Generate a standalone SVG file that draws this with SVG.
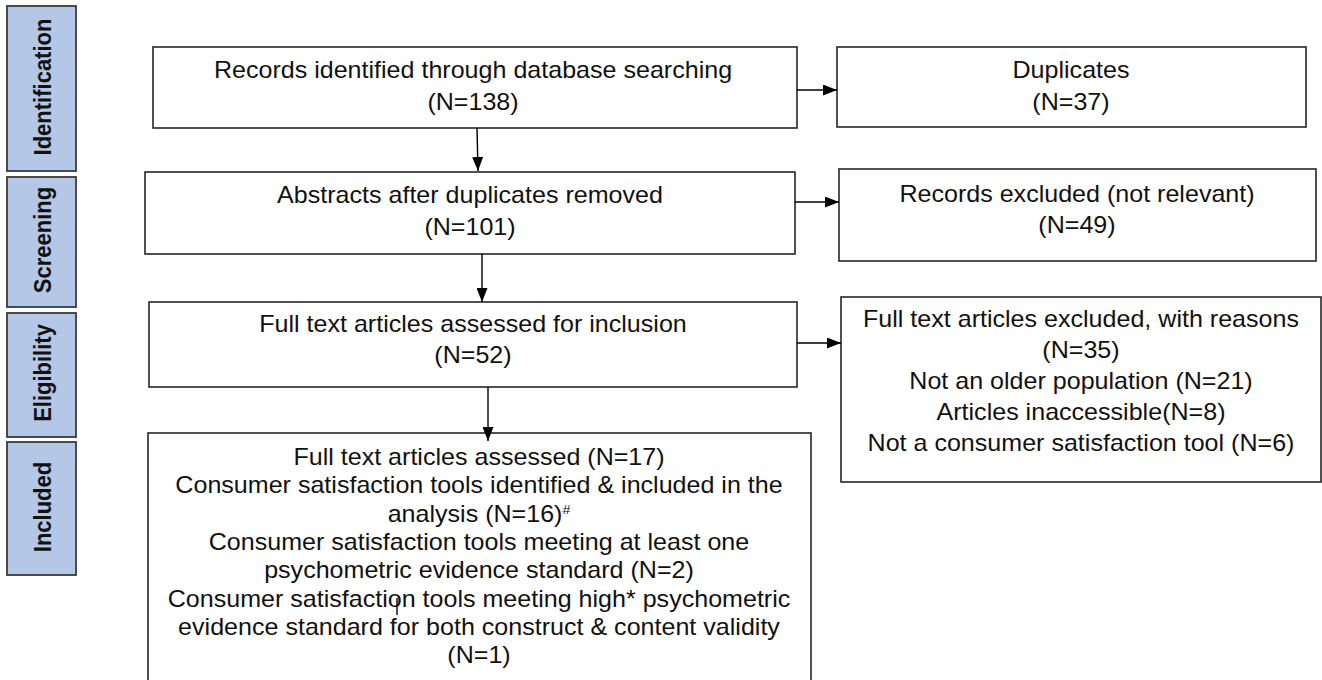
<svg xmlns="http://www.w3.org/2000/svg" width="1322" height="680" viewBox="0 0 1322 680">
  <defs>
    <marker id="arrow" markerUnits="userSpaceOnUse" markerWidth="14" markerHeight="11" refX="14" refY="5.5" orient="auto">
      <path d="M0,0 L14,5.5 L0,11 Z" fill="#000"/>
    </marker>
    <style>
      .box { fill: #ffffff; stroke: #262626; stroke-width: 1.6; }
      .stage { fill: #b4c7e7; stroke: #3a3a3a; stroke-width: 1.8; }
      .lbl { font-family: "Liberation Sans", Arial, sans-serif; font-size: 23px; fill: #111; text-anchor: middle; }
      .stg { font-family: "Liberation Sans", Arial, sans-serif; font-size: 22px; font-weight: bold; fill: #111; text-anchor: middle; }
      .conn { stroke: #000; stroke-width: 1.4; fill: none; }
    </style>
  </defs>
  <rect width="1322" height="680" fill="#ffffff"/>

  <!-- stage bars -->
  <g id="stage-identification">
    <rect class="stage" x="7" y="6" width="69" height="165"/>
    <g transform="translate(51 87) scale(1.09 1) rotate(-90)"><text class="stg" x="0" y="0">Identification</text></g>
  </g>
  <g id="stage-screening">
    <rect class="stage" x="7" y="177" width="69" height="130"/>
    <g transform="translate(51 240) scale(1.09 1) rotate(-90)"><text class="stg" x="0" y="0">Screening</text></g>
  </g>
  <g id="stage-eligibility">
    <rect class="stage" x="7" y="313" width="69" height="124"/>
    <g transform="translate(51 373) scale(1.09 1) rotate(-90)"><text class="stg" x="0" y="0">Eligibility</text></g>
  </g>
  <g id="stage-included">
    <rect class="stage" x="7" y="442" width="69" height="133"/>
    <g transform="translate(51 507) scale(1.09 1) rotate(-90)"><text class="stg" x="0" y="0">Included</text></g>
  </g>

  <!-- flow boxes -->
  <g id="records-identified">
    <rect class="box" x="153" y="47" width="644" height="81"/>
    <g transform="translate(473 0) scale(1.09 1)">
      <text class="lbl" x="0" y="78">Records identified through database searching</text>
      <text class="lbl" x="0" y="110">(N=138)</text>
    </g>
  </g>
  <g id="duplicates">
    <rect class="box" x="837" y="47" width="469" height="80"/>
    <g transform="translate(1071 0) scale(1.09 1)">
      <text class="lbl" x="0" y="78">Duplicates</text>
      <text class="lbl" x="0" y="110">(N=37)</text>
    </g>
  </g>
  <g id="abstracts">
    <rect class="box" x="145" y="172" width="650" height="82"/>
    <g transform="translate(470 0) scale(1.09 1)">
      <text class="lbl" x="0" y="203">Abstracts after duplicates removed</text>
      <text class="lbl" x="0" y="235">(N=101)</text>
    </g>
  </g>
  <g id="records-excluded">
    <rect class="box" x="839" y="169" width="477" height="92"/>
    <g transform="translate(1077 0) scale(1.09 1)">
      <text class="lbl" x="0" y="202">Records excluded (not relevant)</text>
      <text class="lbl" x="0" y="233">(N=49)</text>
    </g>
  </g>
  <g id="fulltext-assessed">
    <rect class="box" x="149" y="302" width="648" height="85"/>
    <g transform="translate(473 0) scale(1.09 1)">
      <text class="lbl" x="0" y="332">Full text articles assessed for inclusion</text>
      <text class="lbl" x="0" y="363">(N=52)</text>
    </g>
  </g>
  <g id="fulltext-excluded">
    <rect class="box" x="841" y="297" width="480" height="185"/>
    <g transform="translate(1081 0) scale(1.09 1)">
      <text class="lbl" x="0" y="327">Full text articles excluded, with reasons</text>
      <text class="lbl" x="0" y="358">(N=35)</text>
      <text class="lbl" x="0" y="389">Not an older population (N=21)</text>
      <text class="lbl" x="0" y="420">Articles inaccessible(N=8)</text>
      <text class="lbl" x="0" y="451">Not a consumer satisfaction tool (N=6)</text>
    </g>
  </g>
  <g id="included">
    <rect class="box" x="148" y="433" width="663" height="270"/>
    <g transform="translate(479 0) scale(1.09 1)">
      <text class="lbl" x="0" y="465">Full text articles assessed (N=17)</text>
      <text class="lbl" x="0" y="493">Consumer satisfaction tools identified &amp; included in the</text>
      <text class="lbl" x="0" y="522">analysis (N=16)<tspan font-size="13" dy="-8">#</tspan></text>
      <text class="lbl" x="0" y="550">Consumer satisfaction tools meeting at least one</text>
      <text class="lbl" x="0" y="578">psychometric evidence standard (N=2)</text>
      <text class="lbl" x="0" y="607">Consumer satisfaction tools meeting high* psychometric</text>
      <text class="lbl" x="0" y="635">evidence standard for both construct &amp; content validity</text>
      <text class="lbl" x="0" y="663">(N=1)</text>
    </g>
  </g>

  <!-- connectors -->
  <g id="connectors">
    <line class="conn" x1="477" y1="128" x2="478" y2="171" marker-end="url(#arrow)"/>
    <line class="conn" x1="482" y1="254" x2="482" y2="302" marker-end="url(#arrow)"/>
    <line class="conn" x1="488" y1="387" x2="488" y2="441" marker-end="url(#arrow)"/>
    <line class="conn" x1="797" y1="90" x2="837" y2="90" marker-end="url(#arrow)"/>
    <line class="conn" x1="795" y1="202" x2="839" y2="202" marker-end="url(#arrow)"/>
    <line class="conn" x1="797" y1="343" x2="841" y2="343" marker-end="url(#arrow)"/>
    <line class="conn" x1="397" y1="598" x2="397" y2="615"/>
  </g>
</svg>
